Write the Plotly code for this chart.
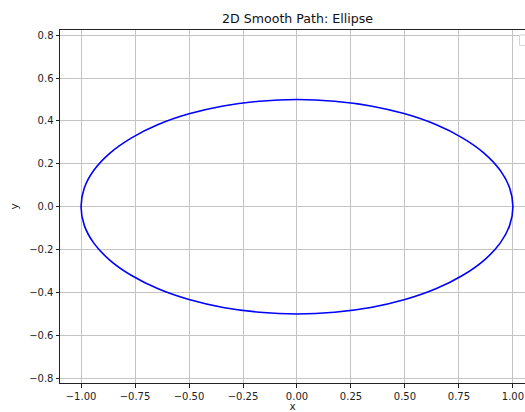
import plotly.graph_objects as go

# Points along the closed path (first point repeated at the end)
path_x = [1.000, 0.985, 0.940, 0.866, 0.766, 0.643, 0.500, 0.342, 0.174, 0.000,
          -0.174, -0.342, -0.500, -0.643, -0.766, -0.866, -0.940, -0.985, -1.000,
          -0.985, -0.940, -0.866, -0.766, -0.643, -0.500, -0.342, -0.174, 0.000,
          0.174, 0.342, 0.500, 0.643, 0.766, 0.866, 0.940, 0.985, 1.000]
path_y = [0.000, 0.087, 0.171, 0.250, 0.321, 0.383, 0.433, 0.470, 0.492, 0.500,
          0.492, 0.470, 0.433, 0.383, 0.321, 0.250, 0.171, 0.087, 0.000,
          -0.087, -0.171, -0.250, -0.321, -0.383, -0.433, -0.470, -0.492, -0.500,
          -0.492, -0.470, -0.433, -0.383, -0.321, -0.250, -0.171, -0.087, 0.000]

x_ticks = [-1.00, -0.75, -0.50, -0.25, 0.00, 0.25, 0.50, 0.75, 1.00]
y_ticks = [-0.8, -0.6, -0.4, -0.2, 0.0, 0.2, 0.4, 0.6, 0.8]

title_text = "2D Smooth Path: Ellipse"
x_label = "x"
y_label = "y"

W, H = 525, 412
L, R, T, B = 60, 0, 29.5, 29

font = "DejaVu Sans, Liberation Sans, sans-serif"

fig = go.Figure()
fig.add_trace(go.Scatter(
    x=path_x, y=path_y, mode="lines",
    line=dict(color="#0000ff", width=1.6, shape="spline", smoothing=1.0),
    showlegend=False, hoverinfo="skip",
))

axis_common = dict(
    showgrid=True, gridcolor="#c4c4c4", gridwidth=1,
    zeroline=False, automargin=False,
    showline=True, linecolor="#222222", linewidth=1,
    ticks="outside", ticklen=3.5, tickwidth=1, tickcolor="#222222",
    tickfont=dict(family=font, size=10, color="#222222"),
)

fig.update_layout(
    width=W, height=H,
    margin=dict(l=L, r=R, t=T, b=B, pad=0),
    paper_bgcolor="white", plot_bgcolor="white",
    font=dict(family=font, color="#222222"),
    title=dict(text=title_text, x=297.5 / W, xanchor="center",
               y=1 - 18.5 / H, yanchor="middle",
               font=dict(family=font, size=12.6, color="#111111")),
    xaxis=dict(range=[-1.0975, 1.056], tickvals=x_ticks, tickformat=".2f",
               mirror=True,
               title=dict(text=x_label, standoff=9,
                          font=dict(family=font, size=10.5, color="#222222")),
               **axis_common),
    yaxis=dict(range=[-0.822, 0.824], tickvals=y_ticks, tickformat=".1f",
               mirror=False,
               title=dict(text=y_label, standoff=8,
                          font=dict(family=font, size=10.5, color="#222222")),
               **axis_common),
    shapes=[
        # empty legend frame in the upper-right corner
        dict(type="rect", xref="paper", yref="paper",
             x0=(519.5 - L) / (W - L - R), x1=1.03,
             y0=1 - (45 - T) / (H - T - B), y1=1 - (34.5 - T) / (H - T - B),
             line=dict(color="#d6d6d6", width=1), fillcolor="rgba(255,255,255,0.8)",
             layer="above"),
    ],
)

fig.write_html("out.html")
